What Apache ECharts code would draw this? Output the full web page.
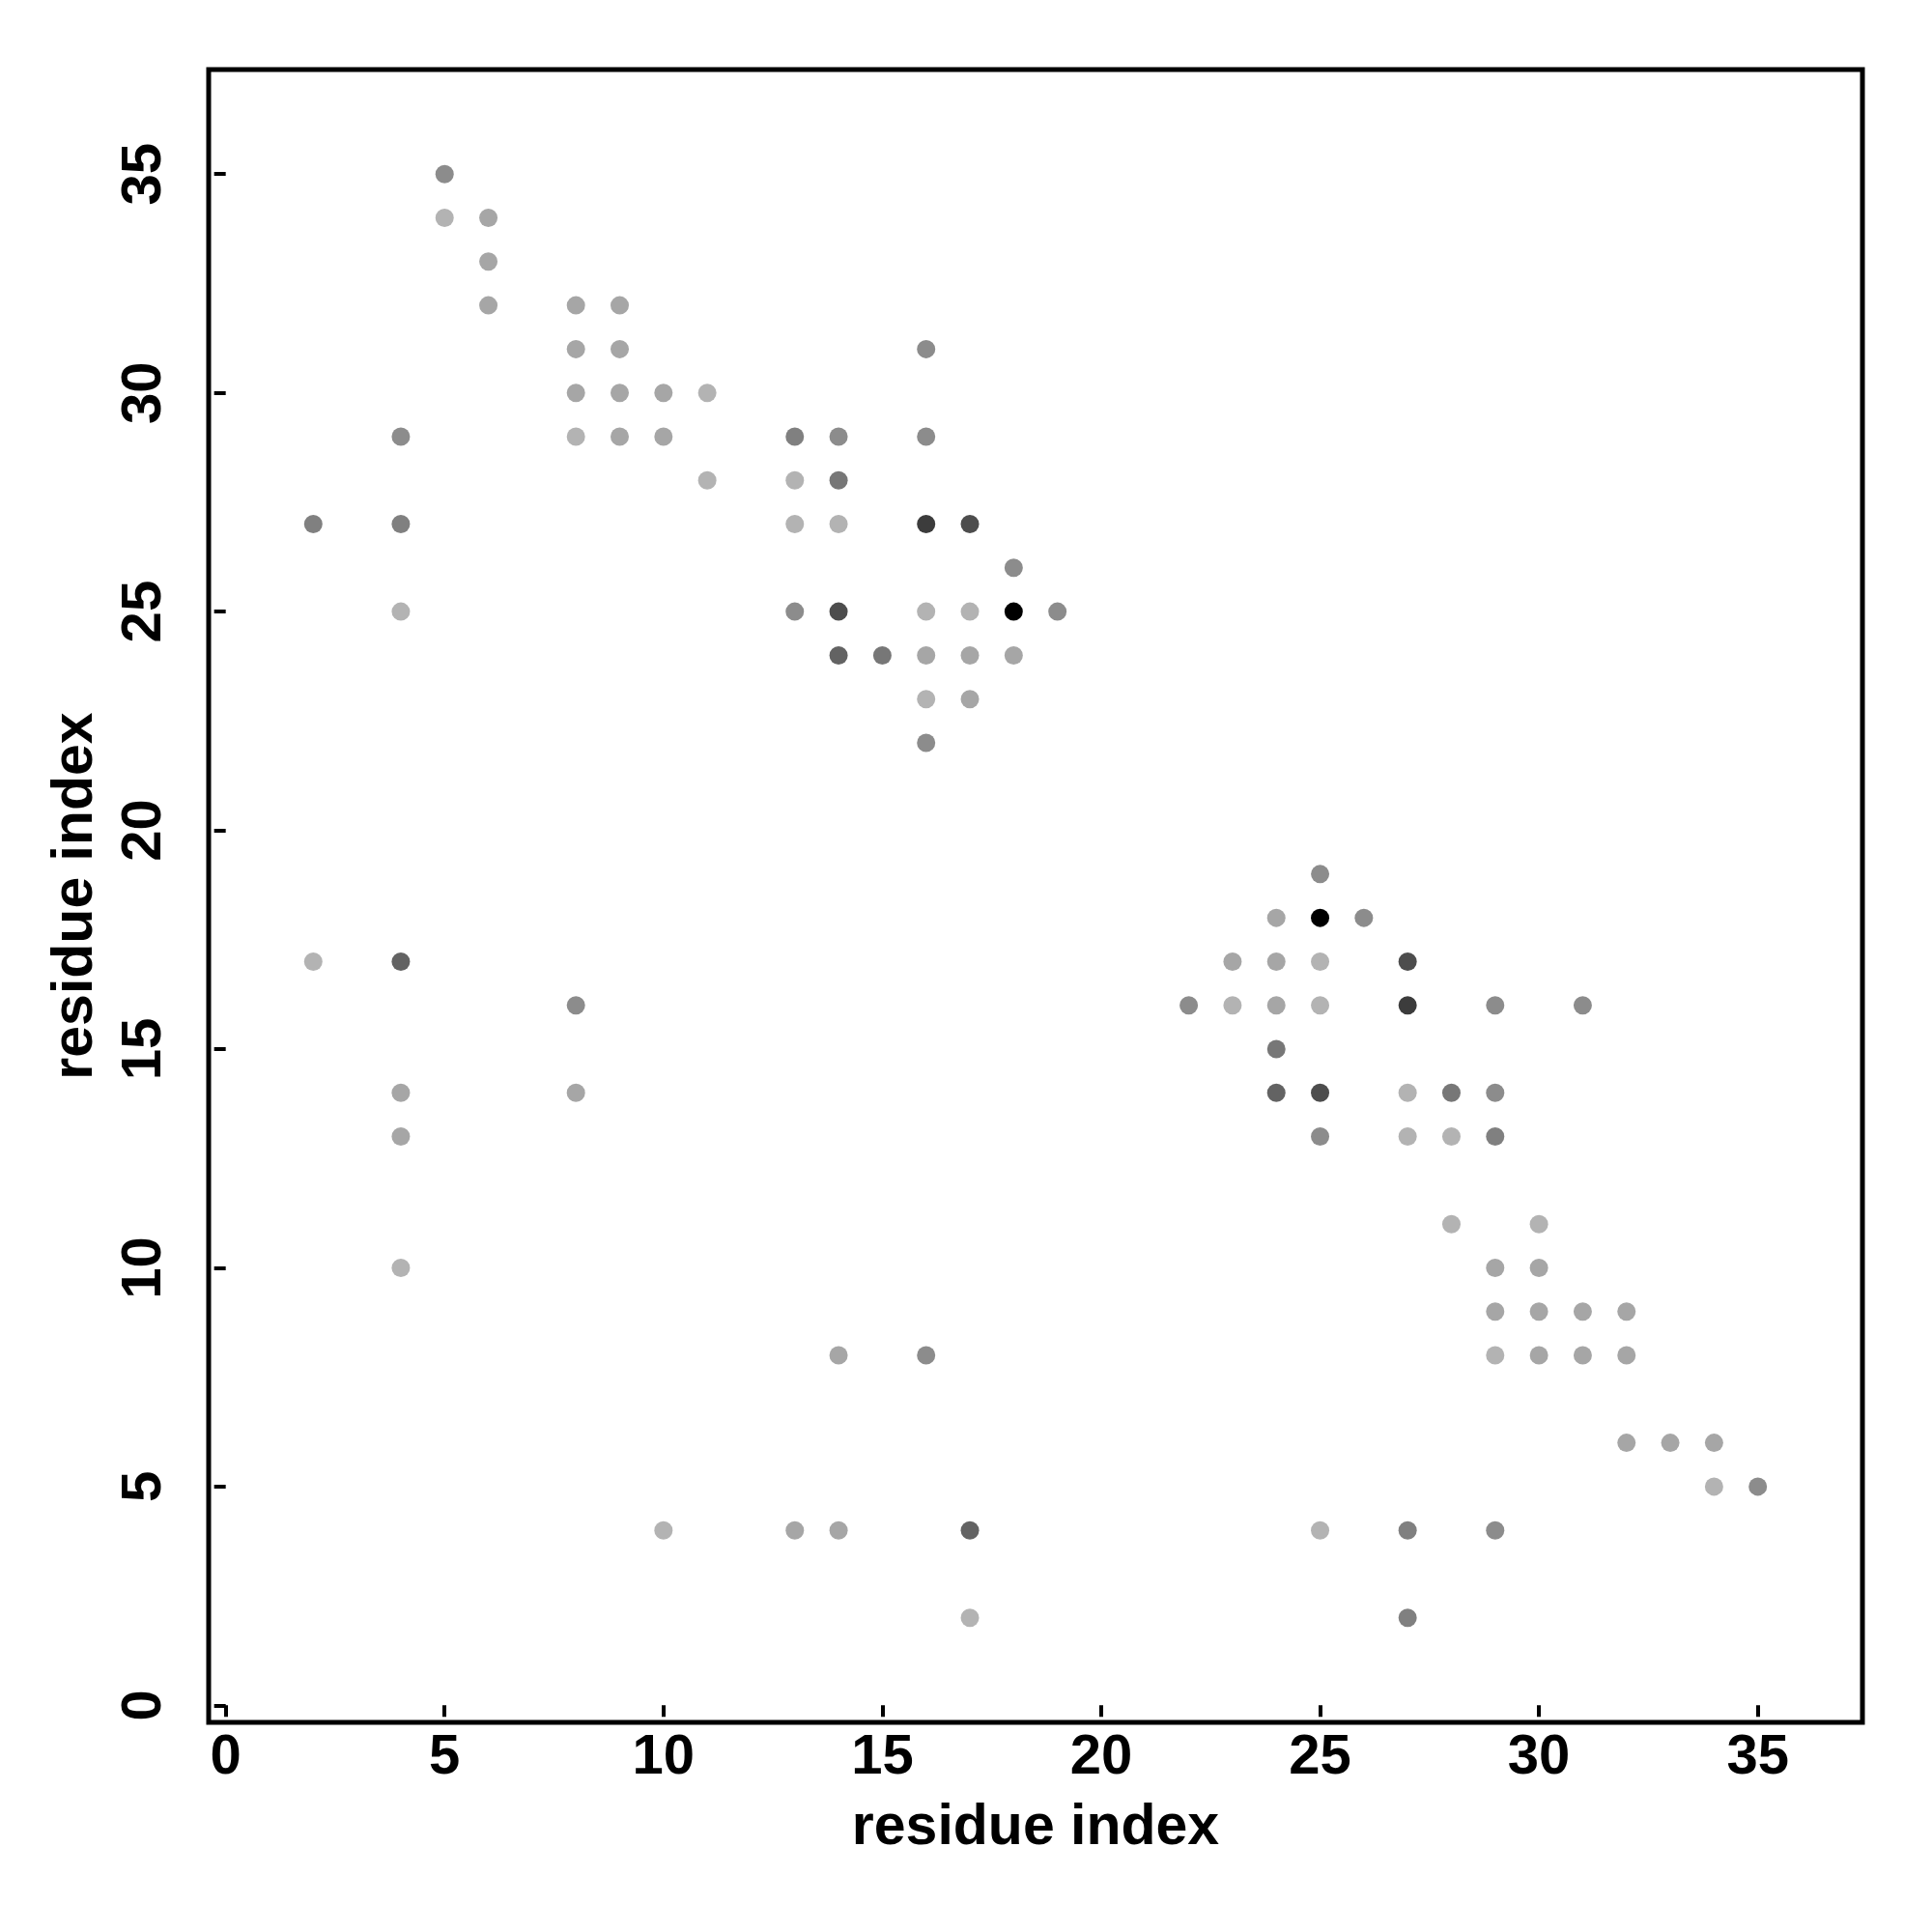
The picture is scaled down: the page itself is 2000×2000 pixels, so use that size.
<!DOCTYPE html>
<html>
<head>
<meta charset="utf-8">
<script src="https://cdn.jsdelivr.net/npm/echarts@6/dist/echarts.min.js"></script>
<style>html,body{margin:0;padding:0;background:#fff}#c{width:2000px;height:2000px}</style>
</head>
<body>
<div id="c"></div>
<script>
// tick labels
const tickValues = [0, 5, 10, 15, 20, 25, 30, 35];
const axisTitle = 'residue index';

// contact points grouped by grey shade: [x residue, y residue]
const shadeBlack = [[18,25],[25,18]];
const shade3c = [[16,27],[27,16]];
const shade4d = [[17,27],[27,17],[14,25],[25,14]];
const shade63 = [[14,24],[24,14],[4,17],[17,4]];
const shade77 = [[15,24],[24,15],[14,28],[28,14]];
const shade80 = [[2,27],[27,2],[4,27],[27,4],[13,29],[29,13]];
const shade8c = [[5,35],[35,5],[16,31],[31,16],[14,29],[29,14],[16,29],[29,16],[18,26],[26,18],
  [13,25],[25,13],[19,25],[25,19],[16,22],[22,16],[4,29],[29,4],[8,16],[16,8]];
const shadeA6 = [[16,24],[24,16],[17,24],[24,17],[18,24],[24,18],[17,23],[23,17],[6,34],[34,6],
  [6,33],[33,6],[6,32],[32,6],[8,32],[32,8],[8,31],[31,8],[9,31],[31,9],[8,30],[30,8],[9,30],[30,9],
  [10,30],[30,10],[9,29],[29,9],[10,29],[29,10],[9,32],[32,9],[4,14],[14,4],[4,13],[13,4],[8,14],[14,8]];
const shadeB3 = [[16,25],[25,16],[17,25],[25,17],[16,23],[23,16],[5,34],[34,5],[8,29],[29,8],
  [11,28],[28,11],[13,28],[28,13],[13,27],[27,13],[14,27],[27,14],[11,30],[30,11],[2,17],[17,2],
  [4,25],[25,4],[4,10],[10,4]];

const groups = [
  {data: shadeB3, color: '#b3b3b3'},
  {data: shadeA6, color: '#a6a6a6'},
  {data: shade8c, color: '#8c8c8c'},
  {data: shade80, color: '#808080'},
  {data: shade77, color: '#777777'},
  {data: shade63, color: '#636363'},
  {data: shade4d, color: '#4d4d4d'},
  {data: shade3c, color: '#3c3c3c'},
  {data: shadeBlack, color: '#000000'}
];

const font = '"Liberation Sans", Arial, Helvetica, sans-serif';
const chart = echarts.init(document.getElementById('c'), null, {renderer: 'canvas'});
const axisCommon = {
  type: 'value',
  min: -0.39,
  max: 37.39,
  splitLine: {show: false},
  axisLine: {show: false},
  axisTick: {show: true, customValues: tickValues, length: 12, lineStyle: {color: '#000', width: 4}},
  name: axisTitle,
  nameLocation: 'middle',
  nameTextStyle: {fontFamily: font, fontWeight: 'bold', fontSize: 59, color: '#000'}
};
chart.setOption({
  animation: false,
  backgroundColor: '#fff',
  grid: {left: 216, right: 72, top: 72, bottom: 217, show: true, borderColor: '#000', borderWidth: 5, backgroundColor: 'transparent'},
  xAxis: Object.assign({}, axisCommon, {
    nameGap: 80,
    axisLabel: {customValues: tickValues, margin: 8, fontFamily: font, fontWeight: 'bold', fontSize: 58, color: '#000'}
  }),
  yAxis: Object.assign({}, axisCommon, {
    nameGap: 108,
    axisLabel: {customValues: tickValues, rotate: 90, margin: 37, fontFamily: font, fontWeight: 'bold', fontSize: 58, color: '#000'}
  }),
  series: groups.map(g => ({
    type: 'scatter',
    data: g.data,
    symbol: 'circle',
    symbolSize: 19,
    itemStyle: {color: g.color, opacity: 1},
    emphasis: {disabled: true}
  }))
});
</script>
</body>
</html>
